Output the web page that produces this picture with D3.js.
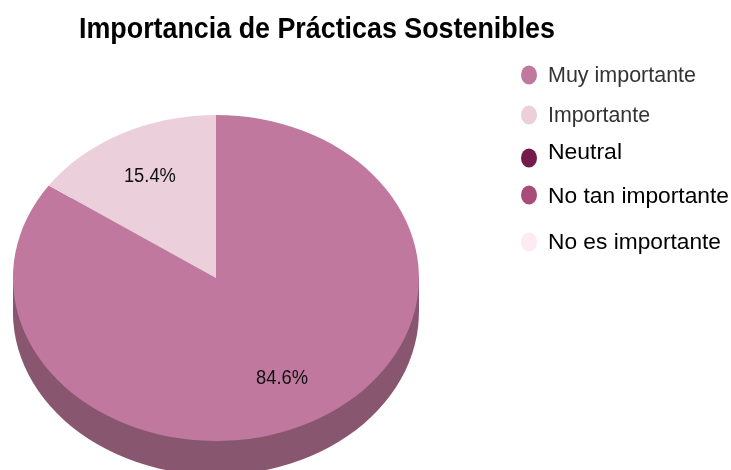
<!DOCTYPE html>
<html>
<head>
<meta charset="utf-8">
<script src="https://cdn.jsdelivr.net/npm/d3@7"></script>
<style>
  html, body { margin: 0; padding: 0; background: #fff; }
  svg { display: block; filter: blur(0.45px); }
  text { font-family: "Liberation Sans", Arial, sans-serif; }
</style>
</head>
<body>
<svg id="chart" width="731" height="470"></svg>
<script>
// Chart data
const categories = ["Muy importante", "Importante", "Neutral", "No tan importante", "No es importante"];
const values = [84.6, 15.4, 0, 0, 0];
const colors = ["#c0789f", "#ebd0dc", "#741b4c", "#a64d79", "#fdeaf2"];
const sideColors = ["#89566f", "#a8949d", "#52133a", "#763757", "#b5a7ad"];
const legendTextColors = ["#333333", "#333333", "#000000", "#000000", "#000000"];

// Legend rows are not evenly spaced in the picture
const legendDotY = [75, 115, 158, 195, 242];
const legendTextY = [74, 114, 151, 195, 241];
// The text in the picture is squeezed sideways, so widths are set by hand
const legendTextWidth = [148, 102, 74, 181, 173];

const titleText = "Importancia de Prácticas Sostenibles";

const svg = d3.select("#chart");

// Pie geometry, drawn on a unit circle then squashed into an ellipse
const cx = 216, cy = 278, rx = 203, ry = 163, depth = 34;

const pie = d3.pie().sort(null).value(function (d) { return d; });
const slices = pie(values);
const arc = d3.arc().innerRadius(0).outerRadius(1);
const labelArc = d3.arc().innerRadius(0.7).outerRadius(0.7);

// Side wall
const wall = svg.append("g");
wall.append("rect")
  .attr("x", cx - rx)
  .attr("y", cy)
  .attr("width", rx * 2)
  .attr("height", depth)
  .attr("fill", sideColors[0]);
wall.selectAll("path")
  .data(slices)
  .enter()
  .append("path")
  .attr("transform", "translate(" + cx + "," + (cy + depth) + ") scale(" + rx + "," + ry + ")")
  .attr("d", arc)
  .attr("fill", function (d, i) { return sideColors[i]; });

// Top face
svg.append("g")
  .attr("transform", "translate(" + cx + "," + cy + ") scale(" + rx + "," + ry + ")")
  .selectAll("path")
  .data(slices)
  .enter()
  .append("path")
  .attr("d", arc)
  .attr("fill", function (d, i) { return colors[i]; });

// Percent labels
svg.append("g")
  .selectAll("text")
  .data(slices.filter(function (d) { return d.value > 0; }))
  .enter()
  .append("text")
  .attr("x", function (d) { return cx + labelArc.centroid(d)[0] * rx; })
  .attr("y", function (d) { return cy + labelArc.centroid(d)[1] * ry; })
  .attr("dy", "0.25em")
  .attr("text-anchor", "middle")
  .attr("font-size", 20)
  .attr("textLength", 52)
  .attr("lengthAdjust", "spacingAndGlyphs")
  .attr("fill", "#111")
  .text(function (d) { return d.value.toFixed(1) + "%"; });

// Title
svg.append("text")
  .attr("x", 79)
  .attr("y", 38)
  .attr("font-size", 29)
  .attr("font-weight", "bold")
  .attr("textLength", 476)
  .attr("lengthAdjust", "spacingAndGlyphs")
  .attr("fill", "#000")
  .text(titleText);

// Legend
const legend = svg.append("g");
legend.selectAll("ellipse")
  .data(categories)
  .enter()
  .append("ellipse")
  .attr("cx", 529)
  .attr("cy", function (d, i) { return legendDotY[i]; })
  .attr("rx", 8)
  .attr("ry", 9.5)
  .attr("fill", function (d, i) { return colors[i]; });
legend.selectAll("text")
  .data(categories)
  .enter()
  .append("text")
  .attr("x", 548)
  .attr("y", function (d, i) { return legendTextY[i]; })
  .attr("dy", "0.35em")
  .attr("font-size", 22.8)
  .attr("textLength", function (d, i) { return legendTextWidth[i]; })
  .attr("lengthAdjust", "spacingAndGlyphs")
  .attr("fill", function (d, i) { return legendTextColors[i]; })
  .text(function (d) { return d; });
</script>
</body>
</html>
